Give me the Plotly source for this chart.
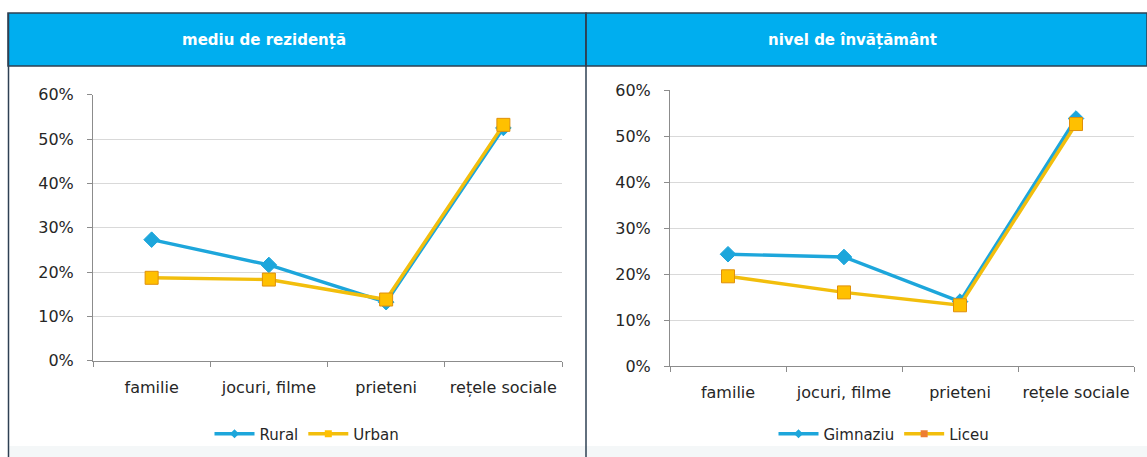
import plotly.graph_objects as go

W, H = 1147, 457

categories = ["familie", "jocuri, filme", "prieteni", "rețele sociale"]
rural = [0.273, 0.216, 0.132, 0.525]
urban = [0.187, 0.183, 0.138, 0.532]
gimnaziu = [0.243, 0.237, 0.140, 0.538]
liceu = [0.195, 0.160, 0.132, 0.526]
titles = ["mediu de rezidență", "nivel de învățământ"]
yticks = [0, 0.1, 0.2, 0.3, 0.4, 0.5, 0.6]
yticklabels = ["0%", "10%", "20%", "30%", "40%", "50%", "60%"]

BLUE = "#1DA6DB"
YELLOW = "#F2BE0C"
MK = "#FFC000"
MKB = "#E0900B"
FONT = "DejaVu Sans"
TXT = "#262626"

def px(x):
    return x / W

def py(y):
    return (H - y) / H

fig = go.Figure()

def add_series(vals, name, color, symbol, xa, ya, mcolor, mline, msize):
    fig.add_trace(go.Scatter(
        x=categories, y=vals, mode="lines+markers", name=name,
        xaxis=xa, yaxis=ya, showlegend=False,
        line=dict(color=color, width=3.4),
        marker=dict(symbol=symbol, size=msize, color=mcolor,
                    line=dict(color=mline, width=1)),
    ))

add_series(rural, "Rural", BLUE, "diamond", "x", "y", BLUE, BLUE, 12)
add_series(urban, "Urban", YELLOW, "square", "x", "y", MK, MKB, 13)
add_series(gimnaziu, "Gimnaziu", BLUE, "diamond", "x2", "y2", BLUE, BLUE, 12)
add_series(liceu, "Liceu", YELLOW, "square", "x2", "y2", MK, MKB, 13)

# legend-only entries
def legend_entry(name, color, symbol, mcolor, legend):
    fig.add_trace(go.Scatter(
        x=[None], y=[None], mode="lines+markers", name=name, legend=legend,
        line=dict(color=color, width=3.4),
        marker=dict(symbol=symbol, size=7, color=mcolor, line=dict(color=mcolor, width=0)),
        hoverinfo="skip",
    ))

legend_entry("Rural", BLUE, "diamond", BLUE, "legend")
legend_entry("Urban", YELLOW, "square", MK, "legend")
legend_entry("Gimnaziu", BLUE, "diamond", BLUE, "legend2")
legend_entry("Liceu", YELLOW, "square", "#ED7D31", "legend2")

xcommon = dict(type="category", range=[-0.5, 3.5], showgrid=False, showline=True,
               linecolor="#8C8C8C", linewidth=1, ticks="outside", tickson="boundaries",
               ticklen=5, tickcolor="#8C8C8C", zeroline=False, tickangle=0,
               automargin=False,
               tickfont=dict(family=FONT, size=16, color=TXT), ticklabelstandoff=12,
               fixedrange=True)
ycommon = dict(range=[0, 0.6], tickvals=yticks, ticktext=yticklabels, showgrid=True,
               gridcolor="#D9D9D9", gridwidth=1, showline=True, linecolor="#8C8C8C",
               linewidth=1, ticks="outside", ticklen=5, tickcolor="#8C8C8C",
               zeroline=False, tickfont=dict(family=FONT, size=16, color=TXT),
               automargin=False, ticklabelstandoff=10, fixedrange=True)

fig.update_layout(
    width=W, height=H, margin=dict(l=0, r=0, t=0, b=0, autoexpand=False),
    paper_bgcolor="white", plot_bgcolor="white",
    xaxis=dict(domain=[px(93), px(562)], anchor="y", **xcommon),
    yaxis=dict(domain=[py(360.7), py(94.7)], anchor="x", **ycommon),
    xaxis2=dict(domain=[px(670), px(1134)], anchor="y2", **xcommon),
    yaxis2=dict(domain=[py(366), py(90)], anchor="x2", **ycommon),
    legend=dict(orientation="h", x=px(307), y=py(434), xanchor="center", yanchor="middle",
                xref="container", yref="container",
                font=dict(family=FONT, size=15, color=TXT), bgcolor="rgba(0,0,0,0)",
                itemwidth=40, tracegroupgap=0),
    legend2=dict(orientation="h", x=px(884), y=py(434), xanchor="center", yanchor="middle",
                 xref="container", yref="container",
                 font=dict(family=FONT, size=15, color=TXT), bgcolor="rgba(0,0,0,0)",
                 itemwidth=40, tracegroupgap=0),
    showlegend=True,
)

shapes = []
# faint bottom strip
shapes.append(dict(type="rect", xref="paper", yref="paper", x0=px(9), x1=1, y0=0, y1=py(446),
                   fillcolor="#F4F7F8", line=dict(width=0), layer="below"))
# header bands
for x0, x1 in [(8, 586), (586, 1147)]:
    shapes.append(dict(type="rect", xref="paper", yref="paper", x0=px(x0), x1=px(x1),
                       y0=py(66), y1=py(13), fillcolor="#00AEEF",
                       line=dict(color="#2E4053", width=1.5), layer="above"))
# panel vertical borders
for xx in [8.5, 586]:
    shapes.append(dict(type="line", xref="paper", yref="paper", x0=px(xx), x1=px(xx),
                       y0=0, y1=py(13), line=dict(color="#2E4053", width=1.5)))
fig.update_layout(shapes=shapes)

annotations = []
for t, cx in zip(titles, [264, 852]):
    annotations.append(dict(text="<b>" + t + "</b>", xref="paper", yref="paper",
                            x=px(cx), y=py(40), xanchor="center", yanchor="middle",
                            showarrow=False, font=dict(family=FONT, size=15, color="white")))
fig.update_layout(annotations=annotations)

fig.write_html("out.html", config={"displayModeBar": False},
               post_script="document.body.style.margin='0';document.body.style.overflow='hidden';")
